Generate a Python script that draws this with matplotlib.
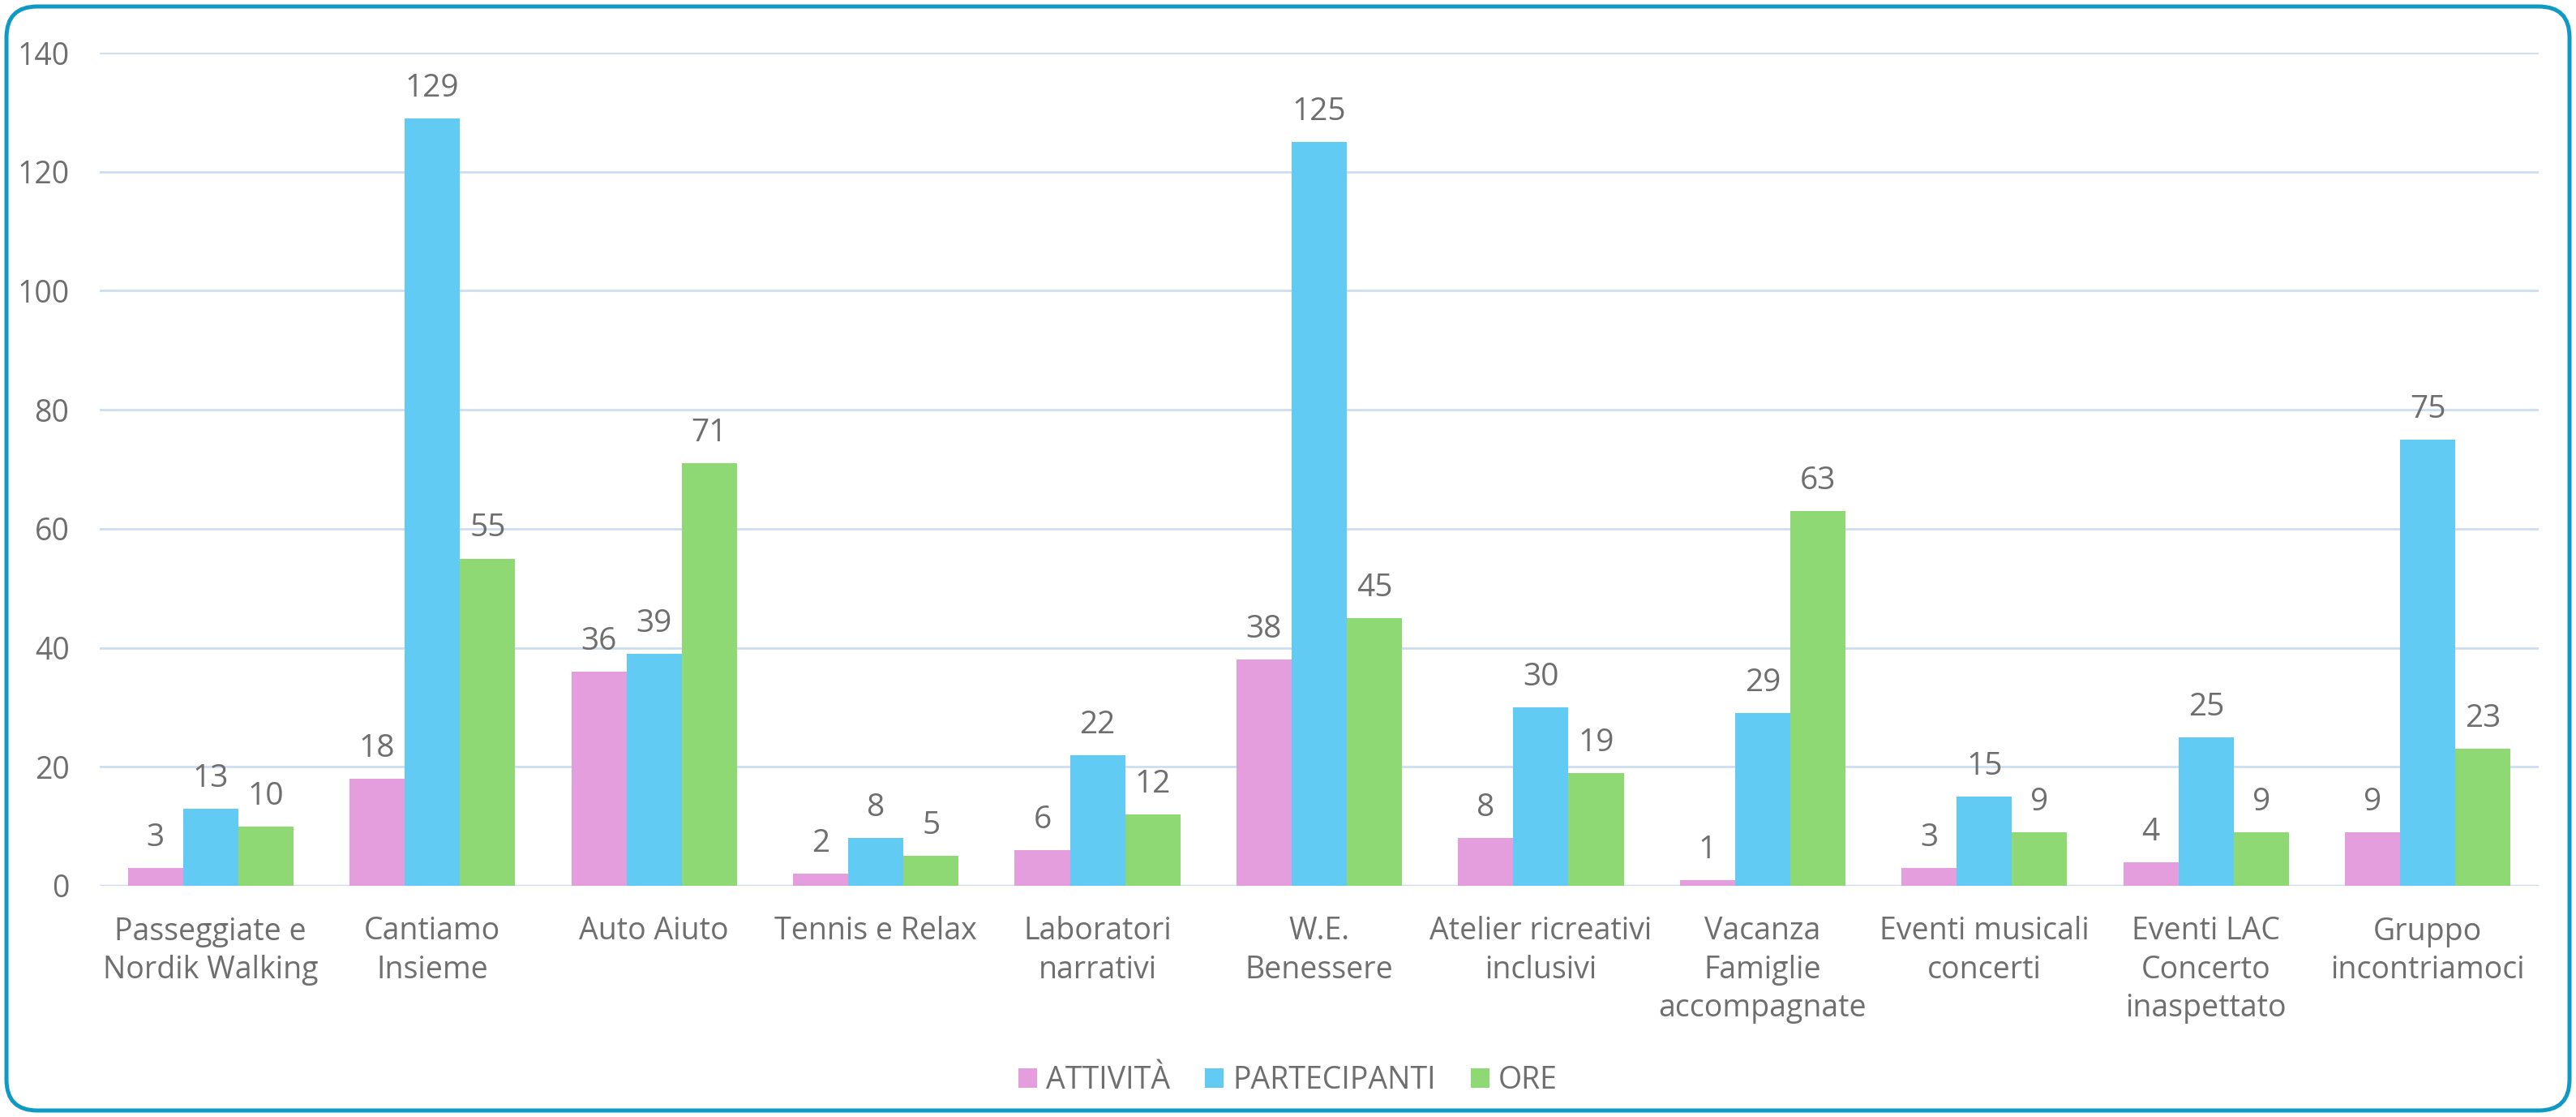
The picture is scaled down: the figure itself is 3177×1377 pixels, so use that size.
import matplotlib
matplotlib.use("Agg")
import matplotlib.pyplot as plt
import numpy as np
from matplotlib.patches import FancyBboxPatch
from matplotlib.transforms import IdentityTransform

plt.rcParams['font.family'] = ['Open Sans', 'DejaVu Sans']

categories = ["Passeggiate e\nNordik Walking", "Cantiamo\nInsieme", "Auto Aiuto",
              "Tennis e Relax", "Laboratori\nnarrativi", "W.E.\nBenessere",
              "Atelier ricreativi\ninclusivi", "Vacanza\nFamiglie\naccompagnate",
              "Eventi musicali\nconcerti", "Eventi LAC\nConcerto\ninaspettato",
              "Gruppo\nincontriamoci"]
attivita = [3, 18, 36, 2, 6, 38, 8, 1, 3, 4, 9]
partecipanti = [13, 129, 39, 8, 22, 125, 30, 29, 15, 25, 75]
ore = [10, 55, 71, 5, 12, 45, 19, 63, 9, 9, 23]
series_names = ["ATTIVITÀ", "PARTECIPANTI", "ORE"]
colors = ["#E49EDD", "#61CBF3", "#8ED973"]
yticks = [0, 20, 40, 60, 80, 100, 120, 140]

TXT = "#6E6E6E"
GRID = "#CCDDF1"

W, H = 3177, 1377
fig = plt.figure(figsize=(W / 100, H / 100), dpi=100)
ax = fig.add_axes([123 / W, (H - 1092) / H, (3131 - 123) / W, (1092 - 65) / H])

x = np.arange(len(categories))
bw = 0.249
for i, (vals, name, c) in enumerate(zip([attivita, partecipanti, ore], series_names, colors)):
    pos = x + (i - 1) * bw
    bars = ax.bar(pos, vals, width=bw, color=c, label=name, zorder=3, linewidth=0)
    for b, v in zip(bars, vals):
        ax.annotate(str(v), (b.get_x() + b.get_width() / 2, v), xytext=(0, 13),
                    textcoords="offset points", ha="center", va="bottom",
                    fontsize=28, color=TXT)

ax.set_xlim(-0.5, len(categories) - 0.5)
ax.set_ylim(0, 140)
ax.set_yticks(yticks)
ax.yaxis.grid(True, color=GRID, linewidth=2.0, zorder=0)
ax.set_axisbelow(True)
for s in ["top", "right", "left", "bottom"]:
    ax.spines[s].set_visible(False)
ax.axhline(0, color=GRID, linewidth=2.5, zorder=2)
ax.tick_params(axis="both", length=0, labelsize=27, labelcolor=TXT)
ax.tick_params(axis="y", pad=27)
ax.tick_params(axis="x", pad=27)
ax.set_xticks(x)
ax.set_xticklabels(categories, linespacing=1.32)

leg = fig.legend(loc="center", bbox_to_anchor=(0.5, (H - 1332) / H), ncol=3, frameon=False,
                 fontsize=27, labelcolor=TXT, handlelength=0.61, handleheight=0.61,
                 handletextpad=0.3, columnspacing=1.15)

border = FancyBboxPatch((8, 8), W - 16, H - 16, boxstyle="round,pad=0,rounding_size=38",
                        transform=IdentityTransform(), fill=False, edgecolor="#0E9AC5",
                        linewidth=3.6)
fig.patches.append(border)

fig.savefig("out.png", dpi=100, facecolor="white")
